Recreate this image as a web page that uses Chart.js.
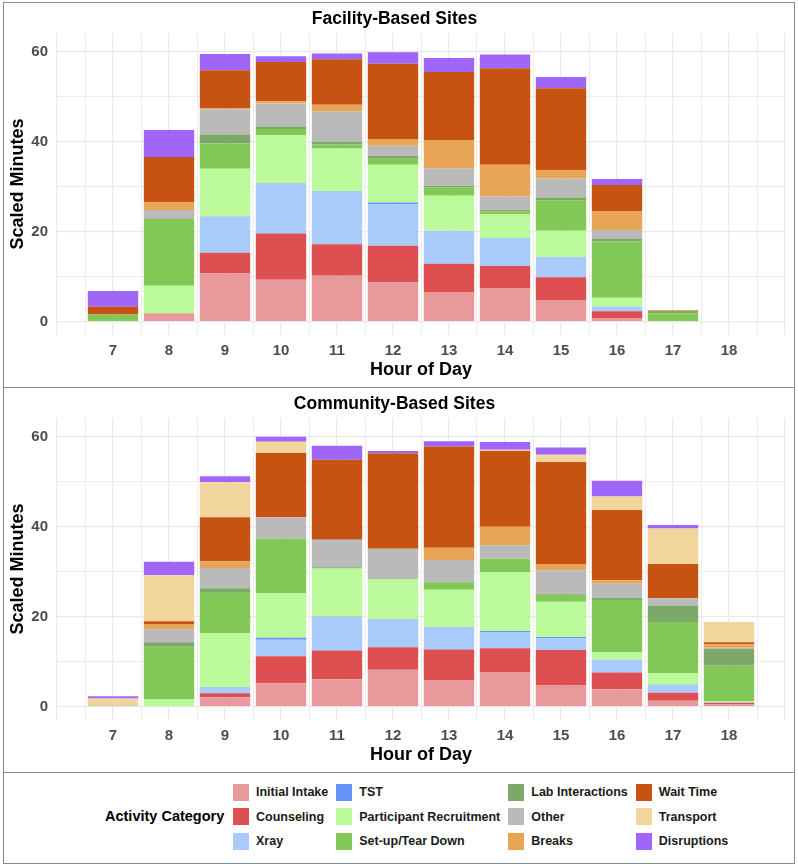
<!DOCTYPE html>
<html>
<head>
<meta charset="utf-8">
<script src="https://cdn.jsdelivr.net/npm/chart.js@4.4.1/dist/chart.umd.min.js"></script>
<style>
  body { margin: 0; background: #fff; font-family: "Liberation Sans", Arial, sans-serif; }
  #frame { position: absolute; left: 3px; top: 2px; width: 792px; border: 1px solid #7b8ca3; box-sizing: border-box; }
  .panel { position: relative; height: 385px; border-bottom: 1px solid #7b8ca3; box-sizing: border-box; }
  .panel .box { position: relative; width: 790px; height: 384px; }
  #legend { position: relative; height: 90px; }
  #legend .title { position: absolute; left: 101px; top: 43px; transform: translateY(-50%); font-weight: bold; font-size: 14.5px; color: #000; }
  #legend .keys { position: absolute; left: 229px; top: 7px; display: grid; grid-auto-flow: column; grid-template-rows: repeat(3, 24.5px); column-gap: 8px; }
  #legend .item { display: flex; align-items: center; font-weight: bold; font-size: 12.5px; color: #1a1a1a; }
  #legend .swatch { width: 16px; height: 17px; margin-right: 7px; }
</style>
</head>
<body>
<div id="frame">
  <div class="panel"><div class="box"><canvas id="facilityChart"></canvas></div></div>
  <div class="panel"><div class="box"><canvas id="communityChart"></canvas></div></div>
  <div id="legend"><div class="title">Activity Category</div><div class="keys" id="legendKeys"></div></div>
</div>
<script>
const hours = [7, 8, 9, 10, 11, 12, 13, 14, 15, 16, 17, 18]

const categories = ["Initial Intake", "Counseling", "Xray", "TST", "Participant Recruitment",
  "Set-up/Tear Down", "Lab Interactions", "Other", "Breaks", "Wait Time", "Transport", "Disruptions"]

const colors = ["#e8999b", "#de4f51", "#a9cbfb", "#6593f5", "#bbf99b",
  "#82c856", "#7ea86a", "#bababa", "#e9a556", "#c75313", "#f2d59c", "#a066f8"]

const yTickValues = [0, 10, 20, 30, 40, 50, 60]

// Facility-based sites, scaled minutes per hour
const facInitialIntake = [0, 1.8, 10.7, 9.3, 10.2, 8.7, 6.6, 7.5, 4.7, 0.7, 0, 0]
const facCounseling    = [0, 0.1, 4.6, 10.3, 7.0, 8.2, 6.3, 4.9, 5.2, 1.6, 0, 0]
const facXray          = [0, 0, 8.0, 11.1, 11.7, 9.2, 7.3, 6.2, 4.5, 1.1, 0, 0]
const facTST           = [0, 0, 0.1, 0.1, 0.1, 0.4, 0, 0, 0, 0, 0, 0]
const facRecruitment   = [0, 6.1, 10.6, 10.7, 9.5, 8.4, 7.8, 5.3, 5.8, 1.9, 0, 0]
const facSetup         = [1.6, 14.8, 5.6, 1.3, 0.9, 1.3, 1.9, 0.6, 6.8, 12.5, 1.9, 0]
const facLab           = [0, 0, 2.0, 0.6, 0.6, 0.6, 0.3, 0.4, 0.6, 0.6, 0.5, 0]
const facOther         = [0, 2.0, 5.6, 5.1, 6.7, 2.3, 3.9, 2.9, 4.2, 2.0, 0, 0]
const facBreaks        = [0, 1.7, 0.2, 0.5, 1.5, 1.5, 6.3, 7.1, 1.8, 4.1, 0.2, 0]
const facWait          = [1.7, 10.1, 8.5, 8.7, 10.1, 16.7, 15.1, 21.4, 18.3, 5.9, 0, 0]
const facTransport     = [0, 0, 0, 0, 0, 0, 0, 0, 0, 0, 0, 0]
const facDisruptions   = [3.5, 6.0, 3.6, 1.3, 1.3, 2.6, 3.1, 3.1, 2.5, 1.3, 0, 0]

// Community-based sites
const comInitialIntake = [0, 0, 2.1, 5.2, 6.1, 8.2, 5.8, 7.6, 4.7, 3.9, 1.3, 0.5]
const comCounseling    = [0, 0, 0.9, 6.0, 6.4, 5.0, 6.9, 5.4, 7.9, 3.7, 1.8, 0.4]
const comXray          = [0, 0, 1.2, 3.7, 7.3, 6.2, 4.9, 3.6, 2.6, 2.9, 1.6, 0.1]
const comTST           = [0, 0, 0.1, 0.4, 0.2, 0.1, 0.1, 0.2, 0.3, 0, 0.2, 0]
const comRecruitment   = [0, 1.7, 12.1, 9.9, 10.7, 8.9, 8.3, 13.1, 7.8, 1.6, 2.6, 0.2]
const comSetup         = [0, 11.6, 8.9, 12.1, 0, 0, 1.6, 3.0, 1.5, 11.6, 11.3, 7.9]
const comLab           = [0.2, 1.0, 1.0, 0, 0.3, 0, 0.1, 0, 0.2, 0.5, 3.7, 3.7]
const comOther         = [0, 2.9, 4.5, 4.8, 6.1, 6.7, 4.9, 3.0, 5.3, 3.1, 1.6, 0.3]
const comBreaks        = [0, 1.2, 1.5, 0, 0, 0, 2.7, 4.1, 1.4, 0.8, 0, 0.8]
const comWait          = [0, 0.6, 9.8, 14.3, 17.8, 21.2, 22.5, 16.8, 22.7, 15.6, 7.6, 0.4]
const comTransport     = [1.6, 10.2, 7.8, 2.5, 0, 0, 0, 0.3, 1.6, 3.0, 7.9, 4.5]
const comDisruptions   = [0.5, 3.0, 1.3, 1.1, 3.1, 0.5, 1.2, 1.7, 1.6, 3.5, 0.8, 0]

const facilitySeries = [facInitialIntake, facCounseling, facXray, facTST, facRecruitment, facSetup,
  facLab, facOther, facBreaks, facWait, facTransport, facDisruptions]
const communitySeries = [comInitialIntake, comCounseling, comXray, comTST, comRecruitment, comSetup,
  comLab, comOther, comBreaks, comWait, comTransport, comDisruptions]

Chart.defaults.font.family = "'Liberation Sans', Arial, sans-serif"

const gridColor = "#e9e9e9"
const tickColor = "#4d4d4d"

function createPanel(canvasId, title, series) {
  const datasets = series.map((values, i) => ({
    label: categories[i],
    backgroundColor: colors[i],
    borderWidth: 0,
    categoryPercentage: 0.9,
    barPercentage: 2, // ruler uses the half-hour grid spacing
    data: hours.map((h, j) => ({ x: h, y: values[j] })),
  }))

  const config = {
    type: "bar",
    data: { datasets: datasets },
    options: {
      responsive: true,
      maintainAspectRatio: false,
      animation: false,
      layout: { padding: { left: 0, right: 9, top: 0, bottom: 0 } },
      plugins: {
        legend: { display: false },
        tooltip: { enabled: false },
        title: {
          display: true,
          text: title,
          color: "#000",
          font: { size: 17.5, weight: "bold" },
          padding: { top: 6, bottom: 3 },
        },
      },
      scales: {
        x: {
          type: "linear",
          stacked: true,
          min: 6,
          max: 19,
          offset: false,
          afterBuildTicks: (scale) => {
            const ticks = []
            for (let v = 6; v <= 19; v += 0.5) ticks.push({ value: v })
            scale.ticks = ticks
          },
          afterFit: (scale) => { scale.height = 52 },
          grid: {
            offset: false,
            drawTicks: false,
            color: gridColor,
            lineWidth: (ctx) => (ctx.tick && Number.isInteger(ctx.tick.value) ? 1.2 : 0.8),
          },
          border: { display: false },
          ticks: {
            autoSkip: false,
            maxRotation: 0,
            padding: 7,
            color: tickColor,
            font: { size: 15, weight: "bold" },
            callback: (v) => (hours.includes(v) ? String(v) : ""),
          },
          title: {
            display: true,
            text: "Hour of Day",
            color: "#000",
            font: { size: 18, weight: "bold" },
            padding: { top: 0, bottom: 6 },
          },
        },
        y: {
          stacked: true,
          min: -2.95,
          max: 64.15,
          afterBuildTicks: (scale) => {
            scale.ticks = yTickValues.map((v) => ({ value: v }))
          },
          afterFit: (scale) => { scale.width = 53 },
          grid: {
            drawTicks: false,
            color: gridColor,
            lineWidth: (ctx) => (ctx.tick && ctx.tick.value % 20 === 0 ? 1.2 : 0.8),
          },
          border: { display: false },
          ticks: {
            padding: 9,
            color: tickColor,
            font: { size: 15, weight: "bold" },
            callback: (v) => (v % 20 === 0 ? String(v) : ""),
          },
          title: {
            display: true,
            text: "Scaled Minutes",
            color: "#000",
            font: { size: 18, weight: "bold" },
            padding: { top: 3, bottom: 0 },
          },
        },
      },
    },
  }

  return new Chart(document.getElementById(canvasId), config)
}

function buildLegend() {
  const holder = document.getElementById("legendKeys")
  categories.forEach((name, i) => {
    const item = document.createElement("div")
    item.className = "item"
    const swatch = document.createElement("span")
    swatch.className = "swatch"
    swatch.style.background = colors[i]
    item.appendChild(swatch)
    item.appendChild(document.createTextNode(name))
    holder.appendChild(item)
  })
}

createPanel("facilityChart", "Facility-Based Sites", facilitySeries)
createPanel("communityChart", "Community-Based Sites", communitySeries)
buildLegend()
</script>
</body>
</html>
